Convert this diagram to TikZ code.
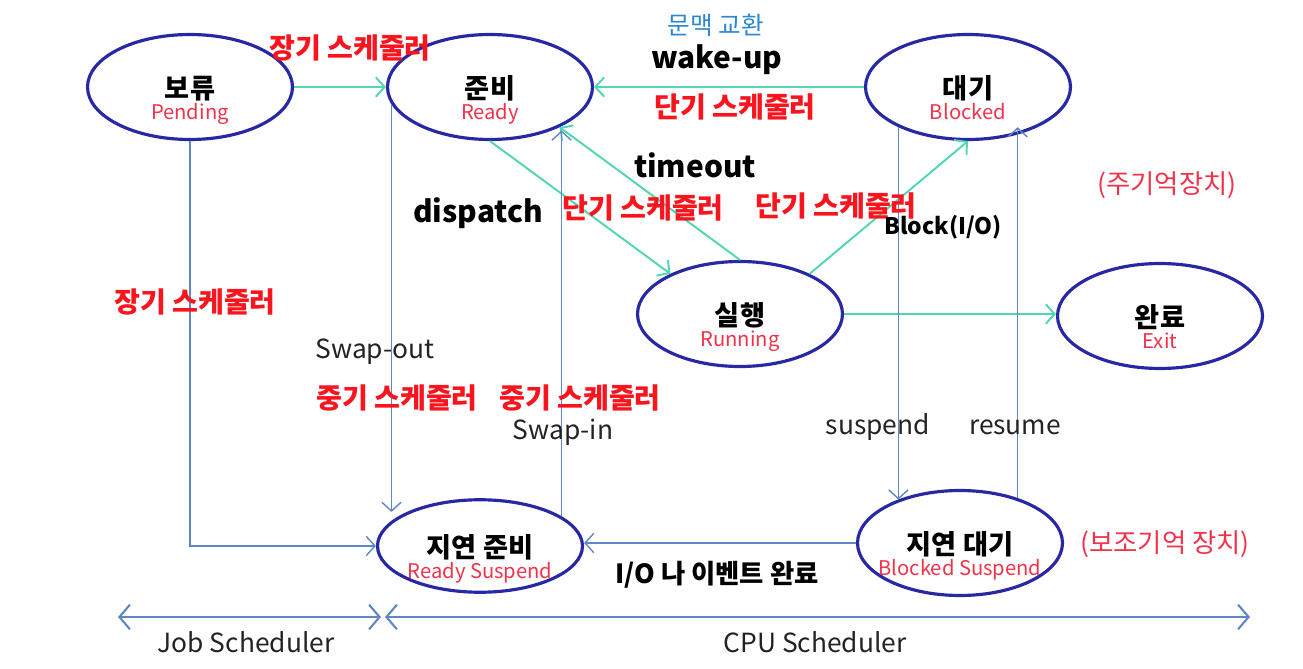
\documentclass[tikz,border=0pt]{standalone}
\usepackage{fontspec}
\setmainfont{Noto Sans CJK KR}
\usepackage{tikz}
\usetikzlibrary{positioning,calc}
\usetikzlibrary{arrows.meta,shapes.geometric}
\definecolor{StateBlue}{RGB}{40,40,165}
\definecolor{FlowGreen}{RGB}{80,215,175}
\definecolor{SwapBlue}{RGB}{95,135,195}
\definecolor{SchedRed}{RGB}{250,20,30}
\definecolor{SubRed}{RGB}{240,50,75}
\definecolor{CtxBlue}{RGB}{45,135,205}
\definecolor{TxtGray}{RGB}{35,35,35}
\newcommand{\statetext}[2]{\makebox[0pt]{\raisebox{-6.5pt}[0pt][0pt]{\bfseries #1}}%
	\makebox[0pt]{\raisebox{-18.5pt}[0pt][0pt]{\color{SubRed}\fontsize{11.5}{14}\selectfont #2}}}
\tikzset{
	state/.style={ellipse,draw=StateBlue,line width=1.8pt,minimum width=4.1cm,minimum height=2.1cm,
		inner sep=0pt,font=\fontsize{15.5}{17}\selectfont},
	flow/.style={draw=FlowGreen,line width=1.1pt,-{Straight Barb[length=5pt,width=11pt]}},
	swap/.style={draw=SwapBlue,line width=0.8pt,-{Straight Barb[length=5pt,width=11pt]}},
	span/.style={draw=SwapBlue,line width=1.2pt,{Straight Barb[length=6pt,width=14pt]}-{Straight Barb[length=6pt,width=14pt]}},
	sched/.style={text=SchedRed,font=\bfseries\fontsize{16}{18}\selectfont},
	ev/.style={text=black,font=\bfseries\fontsize{17}{19}\selectfont},
	note/.style={text=TxtGray,font=\fontsize{15}{17}\selectfont},
	mem/.style={text=SubRed,font=\fontsize{15}{17}\selectfont},
}

\begin{document}
\begin{tikzpicture}[x=0.02cm,y=-0.02cm]
					\useasboundingbox (0,0) rectangle (1303,669);
					\node[state] (pending) at (190,87) {\statetext{보류}{Pending}};
					\node[state] (ready) at (490,87) {\statetext{준비}{Ready}};
					\node[state] (blocked) at (968,87) {\statetext{대기}{Blocked}};
					\node[state] (running) at (740,314) {\statetext{실행}{Running}};
					\node[state] (exit) at (1160,316) {\statetext{완료}{Exit}};
					\node[state,minimum height=1.85cm] (rsusp) at (480,546) {\statetext{지연 준비}{Ready Suspend}};
					\node[state] (bsusp) at (960,543) {\statetext{지연 대기}{Blocked Suspend}};
					\draw[flow] (pending.east) -- (ready.west);
					\draw[flow] (blocked.west) -- (ready.east);
					\draw[flow] (ready.south) -- (running.150);
					\draw[flow] (running.north) -- (ready.-30);
					\draw[flow] (running.30) -- (blocked.south);
					\draw[flow] (running.east) -- (running.east -| exit.west);
					\draw[swap] (pending.south) |- (rsusp.west);
					\draw[swap] (ready.190) -- (ready.190 |- rsusp.155);
					\draw[swap] (rsusp.20) -- (rsusp.20 |- ready.-35);
					\draw[swap] (blocked.210) -- (blocked.210 |- bsusp.145);
					\draw[swap] (bsusp.38) -- (bsusp.38 |- blocked.-30);
					\draw[swap] (bsusp.west) -- (bsusp.west -| rsusp.east);
					\coordinate (jobL) at (118,617);
					\coordinate (jobR) at (381,617);
					\coordinate (cpuL) at (385,617);
					\coordinate (cpuR) at (1250,617);
					\draw[span] (jobL) -- (jobR);
					\draw[span] (cpuL) -- (cpuR);
					\node[note] (jobtxt) at (246,642) {Job Scheduler};
					\node[note] (cputxt) at (815,642) {CPU Scheduler};
					\node[sched] (longA) at (350,48) {장기 스케줄러};
					\node[text=CtxBlue,font=\fontsize{14}{16}\selectfont] (ctx) at (716,25) {문맥 교환};
					\node[ev] (wake) at (717,60) {wake-up};
					\node[sched] (shortA) at (735,107) {단기 스케줄러};
					\node[ev] (tout) at (695,165) {timeout};
					\node[ev] (disp) at (478,213) {dispatch};
					\node[sched] (shortB) at (643,208) {단기 스케줄러};
					\node[sched] (shortC) at (836,206) {단기 스케줄러};
					\node[font=\bfseries\fontsize{13}{15}\selectfont] (blkio) at (943,227) {Block(I/O)};
					\node[mem] (mainmem) at (1167,185) {(주기억장치)};
					\node[sched] (longB) at (195,302) {장기 스케줄러};
					\node[note] (swout) at (375,352) {Swap-out};
					\node[sched] (midA) at (397,398) {중기 스케줄러};
					\node[sched] (midB) at (580,398) {중기 스케줄러};
					\node[note] (swin) at (563,432) {Swap-in};
					\node[note] (susp) at (878,427) {suspend};
					\node[note] (resm) at (1015,427) {resume};
					\node[font=\bfseries\fontsize{15}{17}\selectfont] (iodone) at (717,575) {I/O 나 이벤트 완료};
					\node[mem] (auxmem) at (1165,544) {(보조기억 장치)};
				\end{tikzpicture}
\end{document}
